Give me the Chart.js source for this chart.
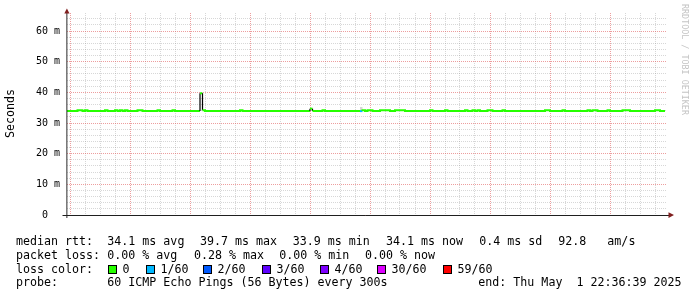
<!DOCTYPE html>
<html>
<head>
<meta charset="utf-8">
<style>
  html, body { margin: 0; padding: 0; background: #fff; }
  canvas { display: block; }
</style>
<script src="https://cdn.jsdelivr.net/npm/chart.js@4.4.1/dist/chart.umd.min.js"></script>
</head>
<body>
<canvas id="pingChart" width="697" height="297"></canvas>
<script>
// Smokeping style 10 day graph, hourly medians (hours counted from Apr 22 00:00)

const firstBucketHour = -2;
const dayLabels = ['22', '23', '24', '25', '26', '27', '28', '29', '30', '01'];

// median rtt per hour bucket (ms), one row per day
const medianRtt = [
    33.9, 33.9, 33.9, 33.9, 33.9, 34.2, 34.2, 33.9, 34.2, 33.9, 33.9, 33.9, 33.9, 33.9, 33.9, 33.9, 34.2, 33.9, 33.9, 33.9, 34.2, 33.9, 34.2, 33.9,
    34.2, 33.9, 33.9, 33.9, 33.9, 34.2, 34.2, 33.9, 33.9, 33.9, 33.9, 33.9, 33.9, 34.2, 33.9, 33.9, 33.9, 33.9, 33.9, 34.2, 33.9, 33.9, 33.9, 33.9,
    33.9, 33.9, 33.9, 33.9, 33.9, 33.9, 39.7, 34.2, 33.9, 33.9, 33.9, 33.9, 33.9, 33.9, 33.9, 33.9, 33.9, 33.9, 33.9, 33.9, 33.9, 33.9, 34.2, 33.9,
    33.9, 33.9, 33.9, 33.9, 33.9, 33.9, 33.9, 33.9, 33.9, 33.9, 33.9, 33.9, 33.9, 33.9, 33.9, 33.9, 33.9, 33.9, 33.9, 33.9, 33.9, 33.9, 33.9, 33.9,
    33.9, 33.9, 34.7, 33.9, 33.9, 33.9, 33.9, 34.2, 33.9, 33.9, 33.9, 33.9, 33.9, 33.9, 33.9, 33.9, 33.9, 33.9, 33.9, 33.9, 33.9, 33.9, 33.9, 34.2,
    33.9, 34.2, 34.2, 33.9, 33.9, 33.9, 34.2, 34.2, 34.2, 34.2, 33.9, 33.9, 34.2, 34.2, 34.2, 34.2, 33.9, 33.9, 33.9, 33.9, 33.9, 33.9, 33.9, 33.9,
    33.9, 33.9, 34.2, 33.9, 33.9, 33.9, 33.9, 33.9, 34.2, 33.9, 33.9, 33.9, 33.9, 33.9, 33.9, 33.9, 34.2, 33.9, 33.9, 34.2, 33.9, 34.2, 33.9, 33.9,
    33.9, 34.2, 34.2, 33.9, 33.9, 33.9, 33.9, 34.2, 33.9, 33.9, 33.9, 33.9, 33.9, 33.9, 33.9, 33.9, 33.9, 33.9, 33.9, 33.9, 33.9, 33.9, 33.9, 33.9,
    34.2, 34.2, 33.9, 33.9, 33.9, 33.9, 33.9, 34.2, 33.9, 33.9, 33.9, 33.9, 33.9, 33.9, 33.9, 33.9, 33.9, 34.2, 33.9, 34.2, 34.2, 33.9, 33.9, 33.9,
    33.9, 34.2, 33.9, 33.9, 33.9, 33.9, 33.9, 34.2, 34.2, 34.2, 33.9, 33.9, 33.9, 33.9, 33.9, 33.9, 33.9, 33.9, 33.9, 33.9, 34.2, 34.2, 33.9, 33.9
];

// buckets with packet loss (pings lost out of 60)
const lossBucket = [118];
const lossOf60 = [1];

// smoke (spread of the pings) where it shows above the median line
const smokeBucket = [118];
const smokeTop = [35.2];

// loss colour legend
const lossLevels = [0, 1, 2, 3, 4, 30, 59];
const lossNames = ['0', '1/60', '2/60', '3/60', '4/60', '30/60', '59/60'];
const lossColors = ['#26ff00', '#00b8ff', '#0059ff', '#5e00ff', '#7e00ff', '#dd00ff', '#ff0000'];

// legend text
const rttStats = ['34.1 ms avg', '39.7 ms max', '33.9 ms min', '34.1 ms now', '0.4 ms sd', '92.8   am/s'];
const lossStats = ['0.00 % avg', '0.28 % max', '0.00 % min', '0.00 % now'];
const probeText = '60 ICMP Echo Pings (56 Bytes) every 300s';
const endText = 'end: Thu May  1 22:36:39 2025';

const MONO = "'DejaVu Sans Mono', monospace";

function lossColorFor(bucket) {
    const k = lossBucket.indexOf(bucket);
    const lost = k >= 0 ? lossOf60[k] : 0;
    let color = lossColors[0];
    lossLevels.forEach((lvl, i) => {
        if (lost >= lvl) color = lossColors[i];
    });
    return color;
}

// each bucket becomes a flat step: start point + end point
const stepPoints = [];
medianRtt.forEach((v, i) => {
    stepPoints.push({ x: firstBucketHour + i, y: v });
    stepPoints.push({ x: firstBucketHour + i + 1, y: v });
});

// smoke as a small closed box from the median up to the top
const smokePoints = [];
smokeBucket.forEach((b, k) => {
    const x0 = firstBucketHour + b;
    smokePoints.push({ x: x0, y: medianRtt[b] });
    smokePoints.push({ x: x0, y: smokeTop[k] });
    smokePoints.push({ x: x0 + 1, y: smokeTop[k] });
    smokePoints.push({ x: x0 + 1, y: medianRtt[b] });
});

// Text, legend boxes, axes and arrows drawn like rrdtool does
const rrdDecor = {
    id: 'rrdDecor',
    beforeDraw(chart) {
        const ctx = chart.ctx;
        ctx.save();
        ctx.fillStyle = '#ffffff';
        ctx.fillRect(0, 0, chart.width, chart.height);
        ctx.restore();
    },
    afterDraw(chart) {
        const ctx = chart.ctx;
        const area = chart.chartArea;
        ctx.save();

        // axes
        ctx.strokeStyle = '#1f1f1f';
        ctx.lineWidth = 1;
        ctx.beginPath();
        ctx.moveTo(62.5, area.bottom + 0.5);
        ctx.lineTo(669, area.bottom + 0.5);
        ctx.stroke();
        ctx.strokeStyle = 'rgba(31,31,31,0.6)';
        ctx.lineWidth = 1.6;
        ctx.beginPath();
        ctx.moveTo(area.left - 0.2, area.bottom + 3);
        ctx.lineTo(area.left - 0.2, 12);
        ctx.stroke();

        // arrows
        ctx.fillStyle = '#801f1f';
        ctx.beginPath();
        ctx.moveTo(64.3, 13.5);
        ctx.lineTo(69.5, 13.5);
        ctx.lineTo(66.9, 8.5);
        ctx.closePath();
        ctx.fill();
        ctx.beginPath();
        ctx.moveTo(668.5, 212.2);
        ctx.lineTo(668.5, 218);
        ctx.lineTo(674, 215.1);
        ctx.closePath();
        ctx.fill();

        // axis title
        ctx.fillStyle = '#000';
        ctx.font = '11.65px ' + MONO;
        ctx.textAlign = 'center';
        ctx.textBaseline = 'middle';
        ctx.save();
        ctx.translate(11, 113.5);
        ctx.rotate(-Math.PI / 2);
        ctx.fillText('Seconds', 0, 0);
        ctx.restore();

        // watermark
        ctx.save();
        ctx.fillStyle = '#c4c4c4';
        ctx.font = '8.4px ' + MONO;
        ctx.textAlign = 'left';
        ctx.translate(684.5, 4);
        ctx.rotate(Math.PI / 2);
        ctx.fillText('RRDTOOL / TOBI OETIKER', 0, 0);
        ctx.restore();

        // legend rows
        ctx.textAlign = 'left';
        ctx.textBaseline = 'alphabetic';
        ctx.font = '11.65px ' + MONO;
        ctx.fillStyle = '#000';
        const rows = [245.3, 258.9, 272.5, 286.1];

        ctx.fillText('median rtt:', 16, rows[0]);
        [107.3, 200, 292.7, 386, 479.3, 558.3].forEach((x, i) => ctx.fillText(rttStats[i], x, rows[0]));

        ctx.fillText('packet loss:', 16, rows[1]);
        [107.3, 194, 279.3, 365].forEach((x, i) => ctx.fillText(lossStats[i], x, rows[1]));

        ctx.fillText('loss color:', 16, rows[2]);
        [108, 146, 203, 262, 320, 377, 443].forEach((x, i) => {
            ctx.fillStyle = lossColors[i];
            ctx.fillRect(x, 265, 9, 9);
            ctx.strokeStyle = '#000';
            ctx.lineWidth = 1;
            ctx.strokeRect(x + 0.5, 265.5, 8, 8);
            ctx.fillStyle = '#000';
            ctx.fillText(lossNames[i], x + 14.5, rows[2]);
        });

        ctx.fillText('probe:', 16, rows[3]);
        ctx.fillText(probeText, 107.3, rows[3]);
        ctx.fillText(endText, 478.3, rows[3]);

        ctx.restore();
    }
};

const minorGrid = 'rgba(143,143,143,0.36)';
const majorGrid = 'rgba(222,79,79,0.55)';

const chart = new Chart(document.getElementById('pingChart'), {
    type: 'line',
    data: {
        datasets: [{
            label: 'smoke',
            data: smokePoints,
            borderWidth: 0,
            borderColor: 'rgba(0,0,0,0)',
            backgroundColor: '#d6d6d6',
            pointRadius: 0,
            fill: 'shape',
            tension: 0,
            order: 2
        }, {
            label: 'median rtt',
            data: stepPoints,
            borderColor: lossColors[0],
            borderWidth: 2,
            pointRadius: 0,
            fill: false,
            tension: 0,
            order: 1,
            segment: {
                borderColor: ctx => {
                    const bucket = Math.floor(ctx.p0DataIndex / 2);
                    if (ctx.p0DataIndex % 2 === 1) {
                        // the jump between two buckets
                        const jump = Math.abs(ctx.p1.parsed.y - ctx.p0.parsed.y);
                        return jump > 0.45 ? '#000000' : lossColors[0];
                    }
                    return lossColorFor(bucket);
                },
                borderWidth: ctx => {
                    if (ctx.p0DataIndex % 2 === 1 && Math.abs(ctx.p1.parsed.y - ctx.p0.parsed.y) > 0.45) return 1.2;
                    return 2;
                }
            }
        }]
    },
    options: {
        responsive: false,
        animation: false,
        devicePixelRatio: 1,
        layout: { padding: { left: 0, right: 30, top: 13, bottom: 82 } },
        plugins: {
            legend: { display: false },
            tooltip: { enabled: false }
        },
        scales: {
            x: {
                type: 'linear',
                min: -1.2,
                max: 238.8,
                afterFit: s => { s.height = 0; },
                afterBuildTicks: s => {
                    const ticks = [];
                    for (let h = 0; h <= 234; h += 6) ticks.push({ value: h });
                    s.ticks = ticks;
                },
                ticks: {
                    autoSkip: false,
                    maxRotation: 0,
                    padding: 3.5,
                    color: '#000',
                    font: { family: MONO, size: 10 },
                    callback: v => (v % 24 === 12 ? dayLabels[(v - 12) / 24] : '')
                },
                grid: {
                    drawTicks: false,
                    lineWidth: 1,
                    color: ctx => (ctx.tick && ctx.tick.value % 24 === 0 ? majorGrid : minorGrid)
                },
                border: { display: false, dash: [1, 1] }
            },
            y: {
                type: 'linear',
                min: 0,
                max: 65.9,
                afterFit: s => { s.width = 67; },
                afterBuildTicks: s => {
                    const ticks = [];
                    for (let v = 0; v <= 64; v += 2) ticks.push({ value: v });
                    s.ticks = ticks;
                },
                ticks: {
                    autoSkip: false,
                    padding: 7,
                    color: '#000',
                    font: { family: MONO, size: 10 },
                    callback: v => {
                        if (v === 0) return '0  ';
                        return v % 10 === 0 ? v + ' m' : '';
                    }
                },
                grid: {
                    drawTicks: false,
                    lineWidth: 1,
                    color: ctx => (ctx.tick && ctx.tick.value % 10 === 0 ? majorGrid : minorGrid)
                },
                border: { display: false, dash: [1, 1] }
            }
        }
    },
    plugins: [rrdDecor]
});
</script>
</body>
</html>
